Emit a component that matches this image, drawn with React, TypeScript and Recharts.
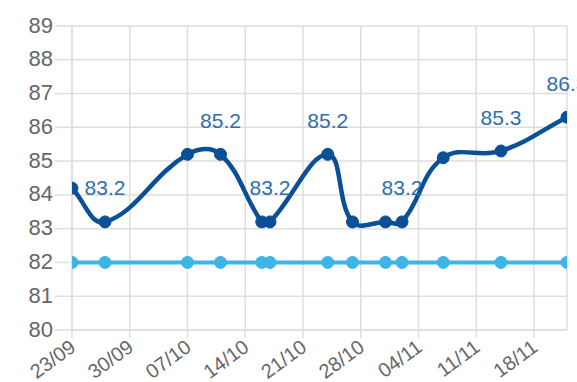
import React from 'react';
import { LineChart, Line, XAxis, YAxis, CartesianGrid, LabelList } from 'recharts';

// sample dates (dd/mm) and the two series
const dates = ['23/09', '27/09', '07/10', '11/10', '16/10', '17/10', '24/10', '27/10', '31/10', '02/11', '07/11', '14/11', '22/11'];
const score = [84.2, 83.2, 85.2, 85.2, 83.2, 83.2, 85.2, 83.2, 83.2, 83.2, 85.1, 85.3, 86.3];
const target = [82, 82, 82, 82, 82, 82, 82, 82, 82, 82, 82, 82, 82];
// which points get a value tag above them
const tagged = [false, true, false, true, false, true, true, false, false, true, false, true, true];

const weekTicks = ['23/09', '30/09', '07/10', '14/10', '21/10', '28/10', '04/11', '11/11', '18/11'];
const yTicks = [80, 81, 82, 83, 84, 85, 86, 87, 88, 89];

const DARK = '#0b4f96';
const LIGHT = '#3fb4e6';
const GRID = '#dedede';
const FONT = '"Liberation Sans", Arial, sans-serif';

const toTime = (d: string) => {
  const [dd, mm] = d.split('/').map(Number);
  return Date.UTC(2019, mm - 1, dd);
};
const fmt = (t: number) => {
  const d = new Date(t);
  return `${String(d.getUTCDate()).padStart(2, '0')}/${String(d.getUTCMonth() + 1).padStart(2, '0')}`;
};

const data = dates.map((d, i) => ({
  t: toTime(d),
  score: score[i],
  target: target[i],
  tag: tagged[i] ? score[i] : undefined,
}));

// cubic bezier spline with distance-weighted control points (tension 0.4)
const tensionSpline = (tension: number) => (context: any) => {
  let pts: [number, number][] = [];
  return {
    areaStart() {},
    areaEnd() {},
    lineStart() { pts = []; },
    point(x: number, y: number) { pts.push([x, y]); },
    lineEnd() {
      const n = pts.length;
      if (!n) return;
      const cps = pts.map((p, i) => {
        const prev = pts[Math.max(i - 1, 0)];
        const next = pts[Math.min(i + 1, n - 1)];
        const d01 = Math.hypot(p[0] - prev[0], p[1] - prev[1]);
        const d12 = Math.hypot(next[0] - p[0], next[1] - p[1]);
        const sum = d01 + d12 || 1;
        const fa = (tension * d01) / sum;
        const fb = (tension * d12) / sum;
        const dx = next[0] - prev[0];
        const dy = next[1] - prev[1];
        return { before: [p[0] - fa * dx, p[1] - fa * dy], after: [p[0] + fb * dx, p[1] + fb * dy] };
      });
      context.moveTo(pts[0][0], pts[0][1]);
      for (let i = 1; i < n; i++) {
        context.bezierCurveTo(
          cps[i - 1].after[0], cps[i - 1].after[1],
          cps[i].before[0], cps[i].before[1],
          pts[i][0], pts[i][1]
        );
      }
    },
  };
};

const XTick = ({ x, y, payload }: any) => (
  <g transform={`translate(${x + 5},${y + 12})`}>
    <text textAnchor="end" transform="rotate(-36)" fill="#666" fontSize={20} fontFamily={FONT}>
      {fmt(payload.value)}
    </text>
  </g>
);

const YTick = ({ x, y, payload }: any) => (
  <text x={x} y={y} dy="0.3em" textAnchor="end" fill="#666" fontSize={22} fontFamily={FONT}>
    {payload.value}
  </text>
);

const renderTag = (props: any) => {
  const { x, y, value } = props;
  if (value == null) return null;
  return (
    <text x={x} y={y - 34} dy="0.36em" textAnchor="middle" fill="#2f6db3" fontSize={21} fontFamily={FONT}>
      {value.toFixed(1)}
    </text>
  );
};

export default function App() {
  return (
    <div style={{ position: 'absolute', left: 0, top: 0, width: 577, height: 382, overflow: 'hidden', background: '#fff' }}>
      <LineChart width={577} height={382} data={data} margin={{ top: 26, right: 10, left: 0, bottom: 0 }}>
        <CartesianGrid stroke={GRID} strokeWidth={1.5} />
        <XAxis
          dataKey="t"
          type="number"
          domain={[toTime('23/09'), toTime('22/11')]}
          ticks={weekTicks.map(toTime)}
          interval={0}
          height={52}
          tick={<XTick />}
          tickSize={8}
          tickMargin={0}
          axisLine={{ stroke: GRID, strokeWidth: 1.5 }}
          tickLine={{ stroke: GRID, strokeWidth: 1.5 }}
          allowDataOverflow
        />
        <YAxis
          domain={[80, 89]}
          ticks={yTicks}
          width={72}
          tick={<YTick />}
          tickSize={17}
          tickMargin={2}
          axisLine={{ stroke: GRID, strokeWidth: 1.5 }}
          tickLine={{ stroke: GRID, strokeWidth: 1.5 }}
          interval={0}
        />
        <Line
          dataKey="target"
          type="linear"
          stroke={LIGHT}
          strokeWidth={4}
          dot={{ r: 6, fill: LIGHT, stroke: LIGHT, strokeWidth: 1 }}
          activeDot={false}
          isAnimationActive={false}
        />
        <Line
          dataKey="score"
          type={tensionSpline(0.4) as any}
          stroke={DARK}
          strokeWidth={4.5}
          dot={{ r: 6, fill: DARK, stroke: DARK, strokeWidth: 1 }}
          activeDot={false}
          isAnimationActive={false}
        >
          <LabelList dataKey="tag" content={renderTag} />
        </Line>
      </LineChart>
    </div>
  );
}
